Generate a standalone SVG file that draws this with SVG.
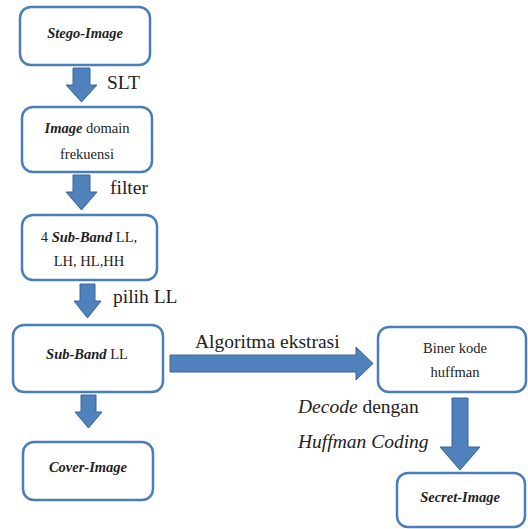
<svg xmlns="http://www.w3.org/2000/svg" width="528" height="529" viewBox="0 0 528 529">
<style>
.box{fill:#fff;stroke:#4a7ebb;stroke-width:2.5}
.arr{fill:#4f81bd;stroke:#3a6496;stroke-width:1}
.bt{font-size:14.5px;fill:#222;text-anchor:middle}
.lb{font-size:19.5px;fill:#222}
.i{font-style:italic;font-weight:bold;font-size:14.5px}
</style>
<rect width="528" height="529" fill="#fff"/>
<g id="connectors">
<path class="arr" d="M73,68 H90 V85 H97 L81.5,102 L66,85 H73 Z"/>
<path class="arr" d="M73,175 H90 V192 H97 L81.5,210 L66,192 H73 Z"/>
<path class="arr" d="M80,284 H95 V301 H101 L87.5,318 L74,301 H80 Z"/>
<path class="arr" d="M81,395 H96 V412 H102 L88.5,428 L75,412 H81 Z"/>
<path class="arr" d="M170,355 H356 V347 L373,363.5 L356,380 V372 H170 Z"/>
<path class="arr" d="M452,398 H468 V447 H480 L460,470 L440,447 H452 Z"/>
</g>
<g font-family="'Liberation Serif', 'Times New Roman', serif">
<g id="n1"><rect class="box" x="20" y="7" width="130" height="58" rx="11"/><text class="bt i" x="85" y="38">Stego-Image</text></g>
<g id="n2"><rect class="box" x="22" y="107" width="130" height="65" rx="11"/><text class="bt" x="87" y="133"><tspan class="i">Image</tspan> domain</text><text class="bt" x="87" y="159">frekuensi</text></g>
<g id="n3"><rect class="box" x="22" y="215" width="135" height="65" rx="11"/><text class="bt" x="89" y="242">4 <tspan class="i">Sub-Band</tspan> LL,</text><text class="bt" x="89" y="266">LH, HL,HH</text></g>
<g id="n4"><rect class="box" x="13" y="325" width="150" height="67" rx="11"/><text class="bt" x="87" y="359"><tspan class="i">Sub-Band</tspan> LL</text></g>
<g id="n5"><rect class="box" x="23" y="442" width="130" height="58" rx="11"/><text class="bt i" x="88" y="472">Cover-Image</text></g>
<g id="n6"><rect class="box" x="378" y="327" width="148" height="65" rx="11"/><text class="bt" x="455" y="353">Biner kode</text><text class="bt" x="455" y="377">huffman</text></g>
<g id="n7"><rect class="box" x="397" y="473" width="128" height="54" rx="11"/><text class="bt i" x="460" y="502">Secret-Image</text></g>
<g id="labels">
<text class="lb" x="107" y="89">SLT</text>
<text class="lb" x="110" y="194">filter</text>
<text class="lb" x="113" y="303">pilih LL</text>
<text class="lb" x="195" y="348">Algoritma ekstrasi</text>
<text class="lb" x="298" y="413"><tspan font-style="italic">Decode</tspan> dengan</text>
<text class="lb" x="298" y="448" font-style="italic">Huffman Coding</text>
</g>
</g>
</svg>
